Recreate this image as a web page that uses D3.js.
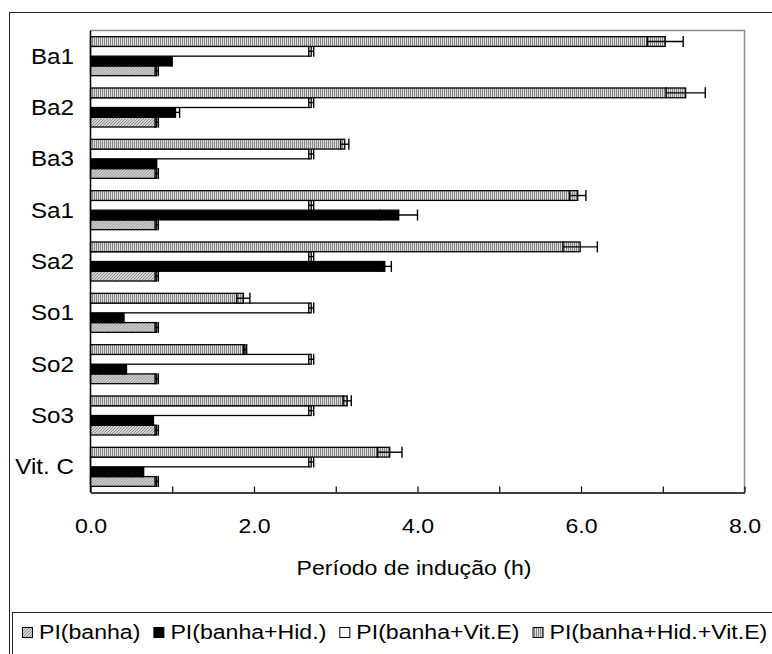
<!DOCTYPE html>
<html>
<head>
<meta charset="utf-8">
<script src="https://cdn.jsdelivr.net/npm/d3@7"></script>
<style>
  body { margin: 0; background: #fff; }
  svg text { font-family: "Liberation Sans", Arial, sans-serif; fill: #000; }
</style>
</head>
<body>
<div id="chart"></div>
<script>
// data (hours)
const categories = ["Ba1", "Ba2", "Ba3", "Sa1", "Sa2", "So1", "So2", "So3", "Vit. C"];
const seriesNames = ["PI(banha)", "PI(banha+Hid.)", "PI(banha+Vit.E)", "PI(banha+Hid.+Vit.E)"];

const piBanha = [0.81, 0.81, 0.81, 0.81, 0.81, 0.81, 0.81, 0.81, 0.81];
const piBanhaErr = [0.02, 0.02, 0.02, 0.02, 0.02, 0.02, 0.02, 0.02, 0.02];
const piHid = [0.99, 1.04, 0.8, 3.77, 3.6, 0.4, 0.43, 0.76, 0.64];
const piHidErr = [0.01, 0.05, 0.01, 0.23, 0.08, 0.01, 0.01, 0.01, 0.01];
const piVitE = [2.7, 2.7, 2.7, 2.7, 2.7, 2.7, 2.7, 2.7, 2.7];
const piVitEErr = [0.03, 0.03, 0.03, 0.03, 0.03, 0.03, 0.03, 0.03, 0.03];
const piHidVitE = [7.03, 7.28, 3.11, 5.96, 5.99, 1.87, 1.89, 3.14, 3.66];
const piHidVitEErr = [0.22, 0.24, 0.05, 0.1, 0.21, 0.08, 0.02, 0.05, 0.15];

const xMajor = [0, 2, 4, 6, 8];
const xAll = [0, 1, 2, 3, 4, 5, 6, 7, 8];
const xTitle = "Período de indução (h)";

const W = 772,
  H = 654;
const PLOT = { LEFT: 90.5, RIGHT: 744.5, TOP: 30.5, BOTTOM: 492.5 };
const SX = 1.1; // text in the figure is a little stretched sideways
const FONT = 21;

const svg = d3
  .select("#chart")
  .append("svg")
  .attr("width", W)
  .attr("height", H);

//patterns
const defs = svg.append("defs");
var diag = defs
  .append("pattern")
  .attr("id", "diag")
  .attr("patternUnits", "userSpaceOnUse")
  .attr("width", 3)
  .attr("height", 3);
diag.append("rect").attr("width", 3).attr("height", 3).attr("fill", "#d4d4d4");
diag
  .append("path")
  .attr("d", "M-1,1 l2,-2 M0,3 l3,-3 M2,4 l2,-2")
  .attr("stroke", "#7a7a7a")
  .attr("stroke-width", 0.8);

var vert = defs
  .append("pattern")
  .attr("id", "vert")
  .attr("patternUnits", "userSpaceOnUse")
  .attr("width", 2)
  .attr("height", 4);
vert.append("rect").attr("width", 2).attr("height", 4).attr("fill", "#dcdcdc");
vert.append("rect").attr("width", 1).attr("height", 4).attr("fill", "#858585");

const fills = ["url(#diag)", "#000", "#fff", "url(#vert)"];
const seriesList = [
  { values: piBanha, errors: piBanhaErr },
  { values: piHid, errors: piHidErr },
  { values: piVitE, errors: piVitEErr },
  { values: piHidVitE, errors: piHidVitEErr },
].map((s, i) => ({ ...s, name: seriesNames[i], fill: fills[i], idx: i }));

// outer frame
svg
  .append("rect")
  .attr("x", 9.5)
  .attr("y", 12.5)
  .attr("width", 800)
  .attr("height", 700)
  .attr("fill", "none")
  .attr("stroke", "#222")
  .attr("stroke-width", 1);

// scales
const x = d3.scaleLinear().domain([0, 8]).range([PLOT.LEFT, PLOT.RIGHT]);
const y = d3
  .scaleBand()
  .domain(categories)
  .range([PLOT.TOP, PLOT.BOTTOM])
  .paddingInner(0.24)
  .paddingOuter(0.12);
// series 1 sits at the bottom of each group
const yInner = d3
  .scaleBand()
  .domain([3, 2, 1, 0])
  .range([0, y.bandwidth()]);

// plot box (grey top/right)
svg
  .append("path")
  .attr("d", `M${PLOT.LEFT},${PLOT.TOP}H${PLOT.RIGHT}V${PLOT.BOTTOM}`)
  .attr("fill", "none")
  .attr("stroke", "#8c8c8c")
  .attr("stroke-width", 1.5);

const g = svg.append("g");

var groups = g
  .selectAll(".cat")
  .data(categories)
  .enter()
  .append("g")
  .attr("class", "cat")
  .attr("transform", (d) => `translate(0, ${y(d)})`);

groups.each(function (cat, ci) {
  var gg = d3.select(this);
  seriesList.forEach((s) => {
    var v = s.values[ci],
      e = s.errors[ci];
    var y0 = yInner(s.idx);
    var h = yInner.bandwidth();
    gg.append("rect")
      .attr("x", x(0))
      .attr("y", y0)
      .attr("width", x(v) - x(0))
      .attr("height", h)
      .attr("fill", s.fill)
      .attr("stroke", "#000")
      .attr("stroke-width", 1.3);
    // error bar
    var cy = y0 + h / 2;
    var eb = gg.append("g").attr("stroke", "#000").attr("stroke-width", 1.4);
    eb.append("line").attr("x1", x(v - e)).attr("x2", x(v + e)).attr("y1", cy).attr("y2", cy);
    eb.append("line").attr("x1", x(v - e)).attr("x2", x(v - e)).attr("y1", cy - 5.5).attr("y2", cy + 5.5);
    eb.append("line").attr("x1", x(v + e)).attr("x2", x(v + e)).attr("y1", cy - 5.5).attr("y2", cy + 5.5);
  });
});

// x axis
const xAxis = d3
  .axisBottom(x)
  .tickValues(xAll)
  .tickSize(-6)
  .tickSizeOuter(0)
  .tickPadding(26)
  .tickFormat((d) => (xMajor.includes(d) ? d3.format(".1f")(d) : ""));

var gx = svg
  .append("g")
  .attr("transform", `translate(0, ${PLOT.BOTTOM})`)
  .call(xAxis);
gx.select(".domain").attr("stroke", "#000").attr("stroke-width", 1.5);
gx.selectAll(".tick line").attr("stroke", "#000").attr("stroke-width", 1.2);
gx.selectAll(".tick text")
  .attr("font-size", FONT)
  .attr("font-family", null)
  .attr("fill", "#000")
  .attr("transform", `scale(${SX},1)`);

// y axis line, no ticks
svg
  .append("line")
  .attr("x1", PLOT.LEFT)
  .attr("x2", PLOT.LEFT)
  .attr("y1", PLOT.TOP)
  .attr("y2", PLOT.BOTTOM)
  .attr("stroke", "#000")
  .attr("stroke-width", 1.5);

svg
  .append("g")
  .selectAll("text")
  .data(categories)
  .enter()
  .append("text")
  .attr("transform", (d) => `translate(74, ${y(d) + y.bandwidth() / 2}) scale(${SX},1)`)
  .attr("text-anchor", "end")
  .attr("dominant-baseline", "central")
  .attr("font-size", 22)
  .text((d) => d);

// axis title
svg
  .append("text")
  .attr("transform", `translate(414, 575) scale(${SX},1)`)
  .attr("text-anchor", "middle")
  .attr("font-size", FONT)
  .text(xTitle);

// legend
svg
  .append("rect")
  .attr("x", 12.5)
  .attr("y", 612.5)
  .attr("width", 800)
  .attr("height", 100)
  .attr("fill", "none")
  .attr("stroke", "#222")
  .attr("stroke-width", 1);

var lx = 22;
seriesList.forEach((s) => {
  svg
    .append("rect")
    .attr("x", lx + 0.5)
    .attr("y", 627.5)
    .attr("width", 10)
    .attr("height", 10)
    .attr("fill", s.fill)
    .attr("stroke", "#000")
    .attr("stroke-width", 1);
  lx += 17;
  var t = svg
    .append("text")
    .attr("transform", `translate(${lx}, 639) scale(${SX},1)`)
    .attr("font-size", FONT)
    .text(s.name);
  lx += t.node().getComputedTextLength() * SX + 13;
});
</script>
</body>
</html>
